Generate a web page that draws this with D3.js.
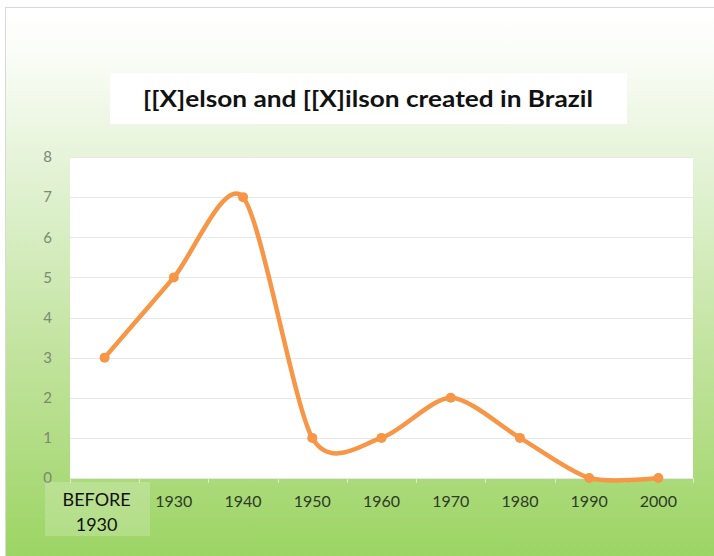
<!DOCTYPE html>
<html>
<head>
<meta charset="utf-8">
<script src="https://cdn.jsdelivr.net/npm/d3@7"></script>
<style>
  body { margin: 0; background: #fff; }
  svg { display: block; }
</style>
</head>
<body>
<svg id="chart"></svg>
<script>
// chart data
var title = "[[X]elson and [[X]ilson created in Brazil";
var categories = ["BEFORE 1930", "1930", "1940", "1950", "1960", "1970", "1980", "1990", "2000"];
var values = [3, 5, 7, 1, 1, 2, 1, 0, 0];
var yTicks = [0, 1, 2, 3, 4, 5, 6, 7, 8];

var W = 714, H = 556;
var margin = { top: 157, right: 21, bottom: 78, left: 70 };
var width = W - margin.left - margin.right,
  height = H - margin.top - margin.bottom;
var font = "Lato, 'Open Sans', sans-serif";

var svg = d3.select("#chart").attr("width", W).attr("height", H);

// background gradient
var defs = svg.append("defs");
var grad = defs.append("linearGradient")
  .attr("id", "bg").attr("x1", 0).attr("y1", 0).attr("x2", 0).attr("y2", 1);
[["0%", "#ffffff"], ["8%", "#fbfdf8"], ["35%", "#ddf0cc"], ["65%", "#bfe299"], ["100%", "#9bd462"]]
  .forEach(function(s) { grad.append("stop").attr("offset", s[0]).attr("stop-color", s[1]); });

svg.append("rect")
  .attr("x", 5.5).attr("y", 7.5)
  .attr("width", W).attr("height", H)
  .attr("fill", "url(#bg)")
  .attr("stroke", "#d9d9d9");

// title box
svg.append("rect")
  .attr("x", 110).attr("y", 73).attr("width", 517).attr("height", 51)
  .attr("fill", "#fff");
svg.append("text")
  .attr("x", 368).attr("y", 107)
  .attr("text-anchor", "middle")
  .attr("textLength", 450).attr("lengthAdjust", "spacingAndGlyphs")
  .style("font-family", font)
  .style("font-weight", "bold")
  .style("font-size", "23px")
  .style("fill", "#111")
  .text(title);

var g = svg.append("g")
  .attr("transform", "translate(" + margin.left + "," + margin.top + ")");

var x = d3.scaleBand().domain(categories).range([0, width]);
var y = d3.scaleLinear().domain([0, 8]).range([height, 0]);

// plot area
g.append("rect").attr("width", width).attr("height", height).attr("fill", "#fff");

// gridlines
g.selectAll(".grid").data(yTicks).enter().append("line")
  .attr("x1", 0).attr("x2", width)
  .attr("y1", function(d) { return Math.round(y(d)) + 0.5; })
  .attr("y2", function(d) { return Math.round(y(d)) + 0.5; })
  .attr("stroke", "#e8e8e8");

// y axis labels
var yAxis = d3.axisLeft(y).tickValues(yTicks).tickSize(0).tickPadding(18);
var ya = g.append("g").call(yAxis);
ya.select(".domain").remove();
ya.selectAll("text")
  .style("font-family", font)
  .style("font-size", "15px")
  .style("fill", "#7b8873");

// x axis tick marks at band boundaries
g.selectAll(".xtick").data(d3.range(categories.length + 1)).enter().append("line")
  .attr("x1", function(i) { return Math.round(i * x.bandwidth()) + 0.5; })
  .attr("x2", function(i) { return Math.round(i * x.bandwidth()) + 0.5; })
  .attr("y1", height).attr("y2", height + 5)
  .attr("stroke", "#d8ecc6");

// highlight box behind first label
g.append("rect")
  .attr("x", -25).attr("y", height + 4)
  .attr("width", 105).attr("height", 54)
  .attr("fill", "#ffffff").attr("fill-opacity", 0.2);

// x labels
var xl = g.selectAll(".xlabel").data(categories).enter().append("text")
  .attr("x", function(d) { return x(d) + x.bandwidth() / 2; })
  .attr("text-anchor", "middle")
  .style("font-family", font);

xl.filter(function(d, i) { return i > 0; })
  .attr("y", height + 29)
  .style("font-size", "16px")
  .style("fill", "#2f3a28")
  .text(function(d) { return d; });

xl.filter(function(d, i) { return i === 0; })
  .style("font-size", "18px")
  .style("fill", "#111")
  .each(function(d) {
    var parts = d.split(" ");
    d3.select(this).selectAll("tspan").data(parts).enter().append("tspan")
      .attr("x", x(d) + x.bandwidth() / 2 - 8)
      .attr("y", function(p, j) { return height + 28 + j * 25; })
      .text(function(p) { return p; });
  });

// line
var line = d3.line()
  .curve(d3.curveCardinal.tension(0.2))
  .x(function(d, i) { return x(categories[i]) + x.bandwidth() / 2; })
  .y(function(d) { return y(d); });

g.append("path")
  .datum(values)
  .attr("d", line)
  .attr("fill", "none")
  .attr("stroke", "#f79646")
  .attr("stroke-width", 4.5)
  .attr("stroke-linecap", "round");

g.selectAll(".dot").data(values).enter().append("circle")
  .attr("cx", function(d, i) { return x(categories[i]) + x.bandwidth() / 2; })
  .attr("cy", function(d) { return y(d); })
  .attr("r", 5)
  .attr("fill", "#f79646");
</script>
</body>
</html>
